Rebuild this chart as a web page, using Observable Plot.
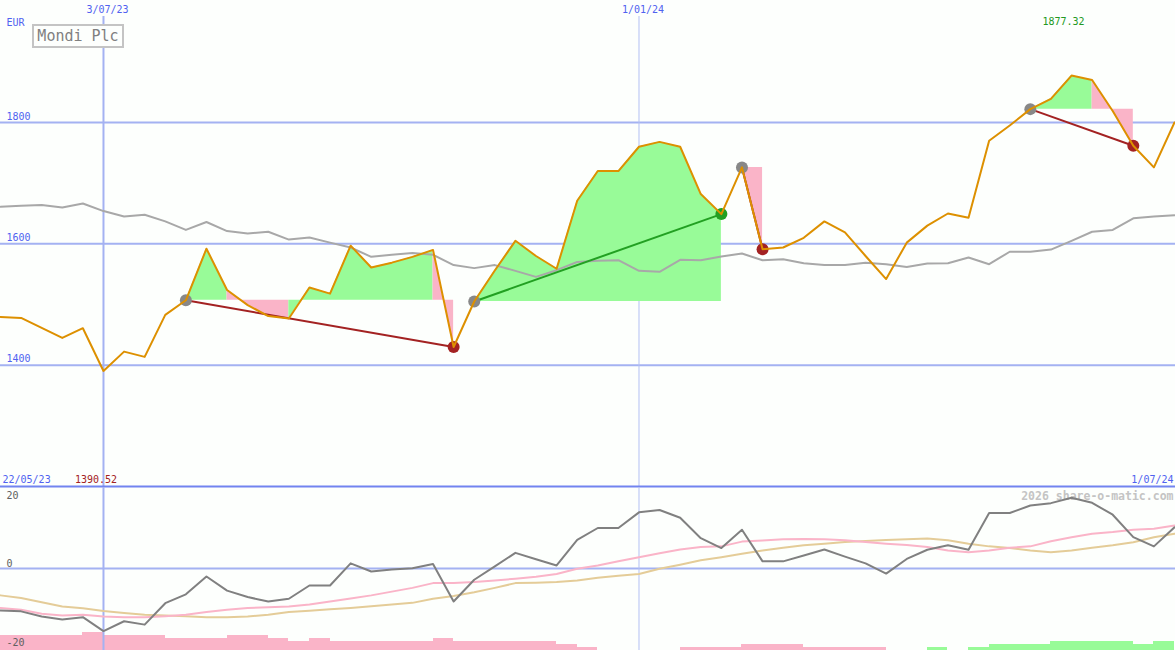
<!DOCTYPE html>
<html><head><meta charset="utf-8">
<script src="https://cdn.jsdelivr.net/npm/d3@7"></script>
<script src="https://cdn.jsdelivr.net/npm/@observablehq/plot@0.6"></script>
<style>
body{margin:0;background:#fdfffd;}
#wrap{position:relative;width:1175px;height:650px;overflow:hidden;background:#fdfffd;}
#wrap svg{display:block;}
#title{position:absolute;left:32px;top:24px;width:88px;height:20px;border:2px solid #c4c4c4;background:#fdfffd;color:#808080;font:15px "DejaVu Sans Mono",monospace;line-height:20px;text-align:center;}
</style></head><body><div id="wrap"><div id="title">Mondi Plc</div></div>
<script>
// ---------- data ----------
const dates = ["2023-05-29","2023-06-05","2023-06-12","2023-06-19","2023-06-26","2023-07-03","2023-07-10","2023-07-17","2023-07-24","2023-07-31","2023-08-07","2023-08-14","2023-08-21","2023-08-28","2023-09-04","2023-09-11","2023-09-18","2023-09-25","2023-10-02","2023-10-09","2023-10-16","2023-10-23","2023-10-30","2023-11-06","2023-11-13","2023-11-20","2023-11-27","2023-12-04","2023-12-11","2023-12-18","2023-12-25","2024-01-01","2024-01-08","2024-01-15","2024-01-22","2024-01-29","2024-02-05","2024-02-12","2024-02-19","2024-02-26","2024-03-04","2024-03-11","2024-03-18","2024-03-25","2024-04-01","2024-04-08","2024-04-15","2024-04-22","2024-04-29","2024-05-06","2024-05-13","2024-05-20","2024-05-27","2024-06-03","2024-06-10","2024-06-17","2024-06-24","2024-07-01"];
const price = [1479.6,1478,1461.5,1445,1461,1390.52,1422.4,1413.7,1483,1507,
  1592,1524,1499,1481,1477,1528,1518,1597,1561,1569,
  1578.5,1590,1430,1505,1556,1605,1580,1559,1671,1720,
  1720,1760,1768,1760,1682,1649,1726,1591,1594,1610,
  1637,1619,1580,1542,1602,1630,1650,1643,1770,1795,
  1822,1839,1877.32,1870,1819,1761.6,1726,1800];
const movingAvg = [1661,1662.6,1664,1660,1666.5,1654,1645,1648,1637,1623,
  1636,1621,1617,1620,1607,1610.4,1602,1594,1578.6,1582,
  1585,1582,1565,1560,1565,1555.5,1545.6,1556.6,1570,1572,
  1573,1555.5,1554,1573.6,1573,1579,1584,1573,1574.7,1568,
  1565,1565,1569,1566.5,1562,1567.5,1568,1577.4,1566.5,1587,
  1587,1590.6,1605,1620,1623,1642,1645,1647];
const momentum = [-12.35,-12.6,-14.1,-15,-14.3,-18.4,-15.5,-16.5,-10.2,-7.6,
  -2.35,-6.5,-8.4,-9.7,-8.9,-5,-5,1.5,-0.9,-0.3,
  0.1,1.3,-9.7,-3.3,0.6,4.6,2.7,0.9,8.4,11.9,
  11.9,16.5,17.2,14.9,8.9,6,11.4,2.1,2.1,3.8,
  5.6,3.5,1.5,-1.5,2.8,5.5,6.8,5.5,16.3,16.3,
  18.5,19.2,20.8,19.3,15.8,9.2,6.5,12.1];
const signalLine = [-11.6,-12.1,-13.3,-13.8,-13.6,-14.1,-14.3,-14.3,-14,-13.6,
  -12.8,-12.1,-11.6,-11.4,-11.2,-10.6,-9.7,-8.8,-7.9,-6.8,
  -5.7,-4.3,-4.3,-4,-3.5,-3,-2.4,-1.6,-0.1,0.9,
  2.1,3.3,4.5,5.6,6.3,6.5,7.9,8.2,8.6,8.7,
  8.6,8.3,7.8,7.3,6.9,6.3,5.3,4.8,5.3,6.1,
  6.5,8,9.2,10.2,10.7,11.4,11.7,12.6];
const slowLine = [-7.9,-8.7,-9.9,-11.2,-11.7,-12.5,-13.1,-13.6,-13.8,-14,
  -14.3,-14.3,-14.1,-13.6,-12.8,-12.4,-12,-11.6,-11.1,-10.6,
  -10.1,-8.9,-8.1,-7,-5.7,-4.3,-4.2,-4,-3.5,-2.7,
  -2.1,-1.6,-0.1,1.1,2.4,3.3,4.3,5.3,6.1,6.8,
  7.3,7.8,8.1,8.4,8.6,8.8,8.3,7.3,6.5,6,
  5.3,4.8,5.3,6.1,6.8,7.7,9.2,10.2];
// weekly strength bars (one per week interval); negative = pink, positive = green
const barLevel = [-5,-5,-5,-5,-6,-5,-5,-5,-4,-4,
  -4,-5,-5,-4,-3,-4,-3,-3,-3,-3,
  -3,-4,-3,-3,-3,-3,-3,-2,-1,0,
  0,0,0,-1,-1,-1,-2,-2,-2,-1,
  -1,-1,-1,0,0,1,0,1,2,2,
  2,3,3,3,3,2,3];
const signalStart = ["2023-07-31","2023-11-06","2024-02-05","2024-05-13"];
const signalEnd   = ["2023-10-30","2024-01-29","2024-02-12","2024-06-17"];
const signalResult = ["loss","gain","loss","loss"];
const tickDates  = ["2023-07-03","2024-01-01"];
const tickLabels = ["3/07/23","1/01/24"];
const gridValues = [1400,1600,1800];
const lowerTicks = [20,0,-20];
const rangeLabels = ["22/05/23","1/07/24"];
const unitLabel = "EUR";
const watermark = "2026 share-o-matic.com";

// ---------- build ----------
const parse = d3.utcParse("%Y-%m-%d");
const D = dates.map(parse);
const rows = D.map((d,i)=>({date:d, price:price[i], ma:movingAvg[i], mom:momentum[i], sig:signalLine[i], slow:slowLine[i]}));
const GREEN_FILL="#98fb98", PINK_FILL="#fab4c8", GRID="#a4b2f2", BLUE_T="#5062f0";
const sigs = signalStart.map((s,j)=>{
  const a = dates.indexOf(s), b = dates.indexOf(signalEnd[j]);
  return {a, b, d1:D[a], p1:price[a], d2:D[b], p2:price[b], result:signalResult[j]};
});
// fill runs: consecutive weekly intervals with the same colour form one polygon
const segs = [];
let runId = 0;
sigs.forEach((s)=>{
  let prevCol = null;
  for(let k=s.a;k<s.b;k++){
    const col = price[k+1] >= s.p1 ? GREEN_FILL : PINK_FILL;
    if(col!==prevCol){
      runId++;
      segs.push({id:runId, date:D[k], p:price[k], base:s.p1, col});
      prevCol = col;
    }
    segs.push({id:runId, date:D[k+1], p:price[k+1], base:s.p1, col});
  }
});
const bars = barLevel.map((v,i)=>({d1:D[i], d2:D[i+1], v})).filter(b=>b.v!==0);
const ticks = tickDates.map((t,i)=>({d:parse(t), label:tickLabels[i]}));
const iMax = d3.maxIndex(price), iMin = d3.minIndex(price);
const xOpt = {type:"utc", domain:[D[0], D[D.length-1]], range:[0,1174], axis:null};
const yTop = [1198.5, 2001];
const yBot = [-24.1, 23.8];
const barUnit = 0.8816;
const font = {fontFamily:"DejaVu Sans Mono, monospace", fontSize:"10px", background:"transparent", overflow:"visible"};

const topPlot = Plot.plot({
  width:1175, height:487, margin:0, style:font,
  x:xOpt, y:{domain:yTop, range:[487,0], axis:null},
  color:{type:"identity"},
  marks:[
    Plot.ruleY(gridValues, {stroke:GRID, strokeWidth:2}),
    Plot.ruleX([ticks[0]], {x:"d", stroke:GRID, strokeWidth:2, insetTop:16}),
    Plot.ruleX([ticks[1]], {x:"d", stroke:"#b4c0f4", strokeWidth:1, insetTop:16}),
    Plot.areaY(segs, {x:"date", y1:"base", y2:"p", z:"id", fill:"col", curve:"linear"}),
    Plot.line(rows, {x:"date", y:"ma", stroke:"#a8a8a8", strokeWidth:2}),
    Plot.link(sigs, {x1:"d1", y1:"p1", x2:"d2", y2:"p2", stroke:d=>d.result==="gain"?"#22a022":"#a32222", strokeWidth:2}),
    Plot.dot(sigs, {x:"d1", y:"p1", r:6, fill:"#888888"}),
    Plot.dot(sigs, {x:"d2", y:"p2", r:6, fill:d=>d.result==="gain"?"#22a022":"#a32222"}),
    Plot.line(rows, {x:"date", y:"price", stroke:"#dd9000", strokeWidth:2}),
    Plot.ruleY([yTop[0]], {stroke:"#7284f0", strokeWidth:2, dy:-1}),
    Plot.text(ticks, {x:"d", text:"label", frameAnchor:"top", lineAnchor:"middle", dy:9, dx:4, fill:BLUE_T}),
    Plot.text(gridValues, {y:d=>d, text:d=>String(d), frameAnchor:"left", textAnchor:"start", lineAnchor:"middle", dx:6, dy:-6, fill:BLUE_T}),
    Plot.text([unitLabel], {text:d=>d, frameAnchor:"top-left", textAnchor:"start", lineAnchor:"middle", dx:6, dy:22, fill:BLUE_T}),
    Plot.text([rangeLabels[0]], {text:d=>d, frameAnchor:"bottom-left", textAnchor:"start", lineAnchor:"middle", dx:2, dy:-8, fill:BLUE_T}),
    Plot.text([rangeLabels[1]], {text:d=>d, frameAnchor:"bottom-right", textAnchor:"end", lineAnchor:"middle", dx:-2, dy:-8, fill:BLUE_T}),
    Plot.text([rows[iMax]], {x:"date", text:d=>d.price.toFixed(2), frameAnchor:"top", lineAnchor:"middle", dy:21, dx:-8, fill:"#229922"}),
    Plot.text([rows[iMin]], {x:"date", text:d=>d.price.toFixed(2), frameAnchor:"bottom", lineAnchor:"middle", dy:-8, dx:-7.5, fill:"#a32222"})
  ]
});

const botPlot = Plot.plot({
  width:1175, height:163, margin:0, style:font,
  x:xOpt, y:{domain:yBot, range:[163,0], axis:null},
  color:{type:"identity"},
  marks:[
    Plot.text([watermark], {text:d=>d, frameAnchor:"top-right", textAnchor:"end", lineAnchor:"middle", dx:-2, dy:9, fill:"#c4c4c4", fontWeight:"bold", fontSize:11.5}),
    Plot.rect(bars, {x1:"d1", x2:"d2", y1:yBot[0], y2:d=>yBot[0]+Math.abs(d.v)*barUnit, fill:d=>d.v<0?PINK_FILL:GREEN_FILL, shapeRendering:"crispEdges"}),
    Plot.ruleY([0], {stroke:GRID, strokeWidth:2}),
    Plot.ruleX([ticks[0]], {x:"d", stroke:GRID, strokeWidth:2}),
    Plot.ruleX([ticks[1]], {x:"d", stroke:"#b4c0f4", strokeWidth:1}),
    Plot.line(rows, {x:"date", y:"slow", stroke:"#e4cc98", strokeWidth:2}),
    Plot.line(rows, {x:"date", y:"sig", stroke:"#fab4c8", strokeWidth:2}),
    Plot.line(rows, {x:"date", y:"mom", stroke:"#808080", strokeWidth:2}),
    Plot.text(lowerTicks.filter(v=>v>=0), {y:d=>d, text:d=>String(d), frameAnchor:"left", textAnchor:"start", lineAnchor:"middle", dx:6, dy:-5, fill:"#606060"}),
    Plot.text(lowerTicks.filter(v=>v<0), {y:d=>d, text:d=>String(d), frameAnchor:"left", textAnchor:"start", lineAnchor:"middle", dx:6, dy:6, fill:"#606060"})
  ]
});

const wrap = document.getElementById("wrap");
wrap.appendChild(topPlot);
wrap.appendChild(botPlot);
</script>
</body></html>
